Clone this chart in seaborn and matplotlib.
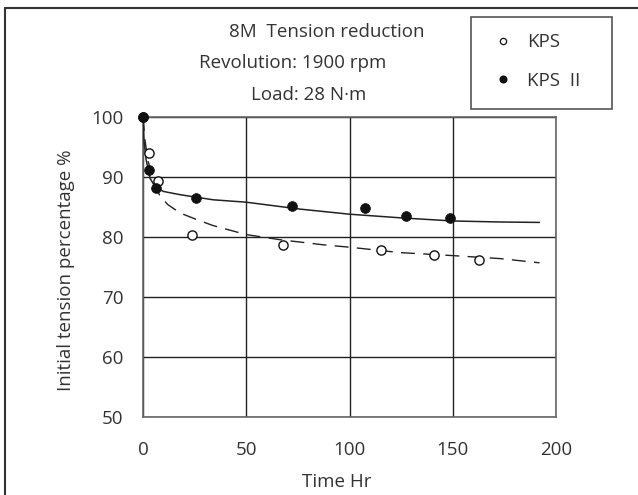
import numpy as np
import pandas as pd
import matplotlib
matplotlib.use("Agg")
import matplotlib.pyplot as plt
from matplotlib.patches import Rectangle
from matplotlib.lines import Line2D
import seaborn as sns

# ---- data ----
kps_t = [0, 3.0, 7.4, 23.6, 67.6, 115.4, 140.9, 162.6]
kps_v = [100, 94.0, 89.3, 80.4, 78.7, 77.8, 77.05, 76.1]

kps2_t = [0, 2.7, 6.1, 25.5, 72.3, 107.7, 127.2, 148.8]
kps2_v = [100, 91.2, 88.2, 86.55, 85.2, 84.9, 83.55, 83.1]

# fitted trend curves
kps2_curve_t = [0, 0.5, 1.5, 3.4, 5.8, 9.8, 18, 34, 50, 76, 100, 124.5, 150, 173, 192]
kps2_curve_v = [100, 96.0, 92.9, 89.8, 88.4, 87.6, 87.05, 86.2, 85.8, 84.65, 83.8, 83.2, 82.67, 82.5, 82.43]

kps_curve_t = [0, 1, 2.5, 5, 7.9, 12, 18, 26, 34, 50, 66.3, 87.3, 100, 124.5, 150, 173, 192]
kps_curve_v = [100, 96.0, 92.6, 89.6, 87.05, 85.4, 84.0, 82.9, 81.9, 80.4, 79.55, 78.7, 78.3, 77.4, 76.9, 76.4, 75.7]

x_ticks = [0, 50, 100, 150, 200]
y_ticks = [50, 60, 70, 80, 90, 100]

title_lines = ["8M  Tension reduction", "Revolution: 1900 rpm", "Load: 28 N·m"]
legend_labels = ["KPS", "KPS  II"]

# ---- styling ----
sns.set_style("white")
plt.rcParams['font.family'] = ['Open Sans', 'DejaVu Sans']
TXT = "#333333"
FS = 13.5

W, H = 638, 495
fig = plt.figure(figsize=(W / 100, H / 100), dpi=100)
ax = fig.add_axes([143 / W, 1 - 417 / H, (556 - 143) / W, (417 - 117) / H])

df_pts1 = pd.DataFrame({"t": kps_t, "v": kps_v})
df_pts2 = pd.DataFrame({"t": kps2_t, "v": kps2_v})
df_c1 = pd.DataFrame({"t": kps_curve_t, "v": kps_curve_v})
df_c2 = pd.DataFrame({"t": kps2_curve_t, "v": kps2_curve_v})

sns.lineplot(data=df_c2, x="t", y="v", ax=ax, color="#222222", lw=1.1,
             sort=False, estimator=None, zorder=3)
sns.lineplot(data=df_c1, x="t", y="v", ax=ax, color="#222222", lw=1.0,
             sort=False, estimator=None, zorder=3)
ax.lines[-1].set_dashes([10, 6])

sns.scatterplot(data=df_pts1, x="t", y="v", ax=ax, marker="o", s=44,
                facecolor="white", edgecolor="#111111", linewidth=1.0, zorder=4,
                clip_on=False)
sns.scatterplot(data=df_pts2, x="t", y="v", ax=ax, marker="o", s=50,
                color="#111111", edgecolor="#111111", linewidth=0.5, zorder=5,
                clip_on=False)

ax.set_xlim(0, 200)
ax.set_ylim(50, 100)
ax.set_xticks(x_ticks)
ax.set_yticks(y_ticks)
ax.set_xticklabels([str(t) for t in x_ticks])
ax.set_yticklabels([str(t) for t in y_ticks])
ax.tick_params(axis="both", length=0, labelsize=FS, colors=TXT)
ax.tick_params(axis="x", pad=17)
ax.tick_params(axis="y", pad=14)
ax.grid(True, color="#222222", lw=1.0)
ax.set_axisbelow(True)
for s in ax.spines.values():
    s.set_color("#666666")
    s.set_linewidth(1.2)

ax.set_xlabel("Time Hr", fontsize=FS, color=TXT)
ax.set_ylabel("Initial tension percentage %", fontsize=FS, color=TXT)
ax.xaxis.set_label_coords((337 - 143) / (556 - 143), -(482 - 417) / (417 - 117), transform=ax.transAxes)
ax.yaxis.set_label_coords(-(143 - 66) / (556 - 143), 0.5 - (270.5 - 267) / 300)
ax.xaxis.label.set_va("center")
ax.yaxis.label.set_va("center")

# Title block
fig.text(327 / W, 1 - 32 / H, title_lines[0], ha="center", va="center", fontsize=FS, color=TXT)
fig.text(293 / W, 1 - 63 / H, title_lines[1], ha="center", va="center", fontsize=FS, color=TXT)
fig.text(309 / W, 1 - 95 / H, title_lines[2], ha="center", va="center", fontsize=FS, color=TXT)

# legend box
fig.add_artist(Rectangle((471 / W, 1 - 109 / H), (612 - 471) / W, (109 - 17) / H,
                         transform=fig.transFigure, fill=False, ec="#555555", lw=1.2))
handles = [
    Line2D([], [], ls="none", marker="o", ms=4.5, mfc="white", mec="#111111", mew=0.9),
    Line2D([], [], ls="none", marker="o", ms=4.8, mfc="#111111", mec="#111111"),
]
fig.legend(handles, legend_labels, loc="center left",
           bbox_to_anchor=(495 / W, 1 - 61.5 / H), frameon=False,
           fontsize=FS, labelcolor=TXT, handlelength=0.8, handletextpad=0.9,
           labelspacing=1.1, borderpad=0, borderaxespad=0)

# outer figure border (top and left only visible)
fig.add_artist(Line2D([5 / W, 5 / W], [0, 1 - 8 / H], transform=fig.transFigure, color="#333333", lw=1.5))
fig.add_artist(Line2D([5 / W, 1], [1 - 8 / H, 1 - 8 / H], transform=fig.transFigure, color="#333333", lw=1.5))

fig.savefig("out.png", dpi=100)
